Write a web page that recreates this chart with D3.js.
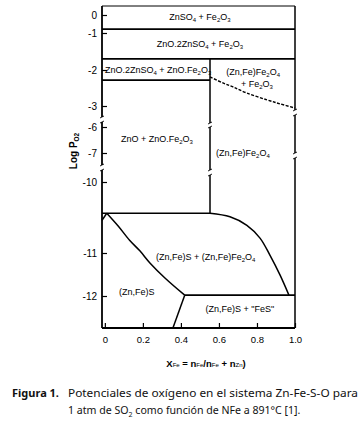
<!DOCTYPE html>
<html>
<head>
<meta charset="utf-8">
<script src="https://cdn.jsdelivr.net/npm/d3@7"></script>
<style>
  body { margin: 0; background: #fff; }
  svg { display: block; }
</style>
</head>
<body>
<script>
// ---- data (x = mole fraction Fe, y = log PO2) ----
const xTicks = [0, 0.2, 0.4, 0.6, 0.8, 1.0];
const yTicks = [0, -1, -2, -3, -6, -7, -10, -11, -12];

const fullLines = [-0.78, -1.70];                 // full-width phase boundaries
const ferriteX = 0.553;                            // vertical boundary
const ferriteSpan = [-1.70, -10.44];
const zfLine = [[-0.015, -2.28], [0.553, -2.28]];
const dashedCurve = [[0.553, -2.19], [0.621, -2.36], [0.674, -2.47], [0.747, -2.64], [0.853, -2.83], [0.921, -2.94], [1.0, -3.29]];
const sulfideTop = [[-0.015, -10.44], [0.553, -10.44]];
const notch = [[-0.015, -10.54], [0.01, -10.44]];
const leftCurve = [[0.01, -10.44], [0.07, -10.62], [0.13, -10.82], [0.184, -10.97], [0.237, -11.23], [0.316, -11.58], [0.42, -11.98]];
const rightCurve = [[0.553, -10.44], [0.658, -10.49], [0.747, -10.61], [0.816, -10.79], [0.868, -11.05], [0.921, -11.51], [0.968, -11.98]];
const fesLine = [[0.42, -11.98], [1.0, -11.98]];
const fesEdge = [[0.42, -11.98], [0.358, -12.75]];

const axisBreaks = [[-4.57, -5.29], [-8.24, -8.76]];
const innerBreaks = [[-5.43, -6.0], [-8.76, -9.28]];
const rightBreaks = [[-3.57, -4.29], [-7.0, -7.52]];

const labelText = [
  "ZnSO_4 + Fe_2O_3",
  "ZnO.2ZnSO_4 + Fe_2O_3",
  "ZnO.2ZnSO_4 + ZnO.Fe_2O_3",
  "(Zn,Fe)Fe_2O_4",
  "+ Fe_2O_3",
  "ZnO + ZnO.Fe_2O_3",
  "(Zn,Fe)Fe_2O_4",
  "(Zn,Fe)S + (Zn,Fe)Fe_2O_4",
  "(Zn,Fe)S",
  "(Zn,Fe)S + \"FeS\""
];
const labelX = [0.5, 0.5, 0.28, 0.78, 0.80, 0.274, 0.726, 0.53, 0.168, 0.71];
const labelY = [-0.11, -1.30, -2.0, -2.06, -2.39, -6.46, -7.0, -11.09, -11.91, -12.30];

const W = 363, H = 431;
const svg = d3.select("body").append("svg").attr("width", W).attr("height", H);

const x = d3.scaleLinear().domain([-0.015, 1]).range([102, 295]);
// broken axis: piecewise scale
const y = d3.scaleLinear()
  .domain([0.5, 0, -1, -2, -3, -6, -7, -10, -11, -12, -12.75])
  .range([6, 15, 33, 70, 106, 127, 153, 182, 253, 296, 328]);

const x0 = x(-0.015), x1 = x(1), yTop = y(0.5), yBot = y(-12.75);
const line = d3.line().x(d => x(d[0])).y(d => y(d[1]));
const smooth = d3.line().x(d => x(d[0])).y(d => y(d[1])).curve(d3.curveCatmullRom.alpha(0.5));

// rich text with subscripts, "_" marks the next char as subscript
function rich(sel, str, sub) {
  str.split(/(_.)/).forEach(p => {
    if (!p) return;
    if (p[0] === "_") {
      sel.append("tspan").attr("font-size", sub).attr("baseline-shift", -1.5).text(p[1]);
    } else {
      sel.append("tspan").text(p);
    }
  });
}

const g = svg.append("g").attr("fill", "none").attr("stroke", "#000");

// segmented vertical line with break marks
function brokenV(px, from, to, breaks, w) {
  let stops = [from];
  breaks.forEach(b => { stops.push(b[0]); stops.push(b[1]); });
  stops.push(to);
  for (let i = 0; i < stops.length; i += 2) {
    g.append("line").attr("x1", px).attr("x2", px)
      .attr("y1", y(stops[i])).attr("y2", y(stops[i + 1]))
      .attr("stroke-width", w);
  }
  breaks.forEach(b => {
    [y(b[0]), y(b[1])].forEach(yy => {
      g.append("path")
        .attr("d", `M${px - 2},${yy + 1}L${px},${yy}L${px + 2},${yy - 1}`)
        .attr("stroke-width", 0.9);
    });
  });
}

// frame
g.append("line").attr("x1", x0).attr("x2", x1).attr("y1", yTop).attr("y2", yTop).attr("stroke-width", 1);
g.append("line").attr("x1", x0).attr("x2", x1).attr("y1", yBot).attr("y2", yBot).attr("stroke-width", 1.8);
brokenV(x0, 0.5, -12.75, axisBreaks, 1.8);
brokenV(x1, 0.5, -12.75, rightBreaks, 1.5);

// boundaries
fullLines.forEach(v => {
  g.append("line").attr("x1", x0).attr("x2", x1).attr("y1", y(v)).attr("y2", y(v)).attr("stroke-width", 1.8);
});
g.append("path").attr("d", line(zfLine)).attr("stroke-width", 1.8);
brokenV(x(ferriteX), ferriteSpan[0], ferriteSpan[1], innerBreaks, 1.5);
g.append("path").attr("d", smooth(dashedCurve))
  .attr("stroke-width", 1.4).attr("stroke-dasharray", "3,1.5");
g.append("path").attr("d", line(sulfideTop)).attr("stroke-width", 1.5);
g.append("path").attr("d", line(notch)).attr("stroke-width", 1.5);
g.append("path").attr("d", smooth(leftCurve)).attr("stroke-width", 1.5);
g.append("path").attr("d", smooth(rightCurve)).attr("stroke-width", 1.5);
g.append("path").attr("d", line(fesLine)).attr("stroke-width", 1.8);
g.append("path").attr("d", line(fesEdge)).attr("stroke-width", 1.5);

// axes (ticks drawn inward)
const fmt = d => d === 0 ? "0" : d.toFixed(1);
const ax = svg.append("g").attr("transform", `translate(0,${yBot})`)
  .call(d3.axisBottom(x).tickValues(xTicks).tickSize(-5).tickPadding(8).tickFormat(fmt));
const ay = svg.append("g").attr("transform", `translate(${x0},0)`)
  .call(d3.axisLeft(y).tickValues(yTicks).tickSize(-5).tickPadding(5).tickFormat(d => d));
[ax, ay].forEach(a => {
  a.select(".domain").remove();
  a.selectAll("line").attr("stroke-width", 1.2);
  a.selectAll("text").attr("font-family", "Liberation Sans, Arial, sans-serif")
    .attr("font-size", 9.5).attr("fill", "#000");
});
ay.selectAll("text").attr("font-size", 10);

// region labels
labelText.forEach((t, i) => {
  const tx = svg.append("text")
    .attr("x", x(labelX[i])).attr("y", y(labelY[i]) + 3.3)
    .attr("text-anchor", "middle")
    .attr("font-family", "Liberation Sans, Arial, sans-serif")
    .attr("font-size", 9);
  rich(tx, t, 6);
});

// axis titles
const yl = svg.append("text")
  .attr("transform", "translate(77,151) rotate(-90)")
  .attr("text-anchor", "middle")
  .attr("font-family", "Liberation Sans, Arial, sans-serif")
  .attr("font-size", 10).attr("font-weight", "bold");
yl.append("tspan").text("Log P");
yl.append("tspan").attr("font-size", 6.5).attr("baseline-shift", -2).text("O2");

const xl = svg.append("text")
  .attr("x", 206).attr("y", 367)
  .attr("text-anchor", "middle")
  .attr("font-family", "Liberation Sans, Arial, sans-serif")
  .attr("font-size", 9.5).attr("font-weight", "bold");
[["X", 0], ["Fe", 1], [" = n", 0], ["Fe", 1], ["/n", 0], ["Fe", 1], [" + n", 0], ["Zn", 1], [")", 0]]
  .forEach(p => {
    xl.append("tspan").attr("font-size", p[1] ? 6 : 9.5)
      .attr("font-weight", p[1] ? "normal" : "bold").text(p[0]);
  });

// caption
const cap = svg.append("g").attr("font-family", "Noto Sans, Open Sans, sans-serif")
  .attr("font-size", 11).attr("fill", "#111");
cap.append("text").attr("x", 12).attr("y", 397).attr("font-weight", "bold").text("Figura 1.");
cap.append("text").attr("x", 68).attr("y", 397)
  .attr("textLength", 290).attr("lengthAdjust", "spacingAndGlyphs")
  .text("Potenciales de oxígeno en el sistema Zn-Fe-S-O para");
const c2 = cap.append("text").attr("x", 68).attr("y", 414).attr("font-size", 10.6);
c2.append("tspan").text("1 atm de SO");
c2.append("tspan").attr("font-size", 7).attr("baseline-shift", -3).text("2");
c2.append("tspan").text(" como función de NFe a 891°C [1].");
</script>
</body>
</html>
